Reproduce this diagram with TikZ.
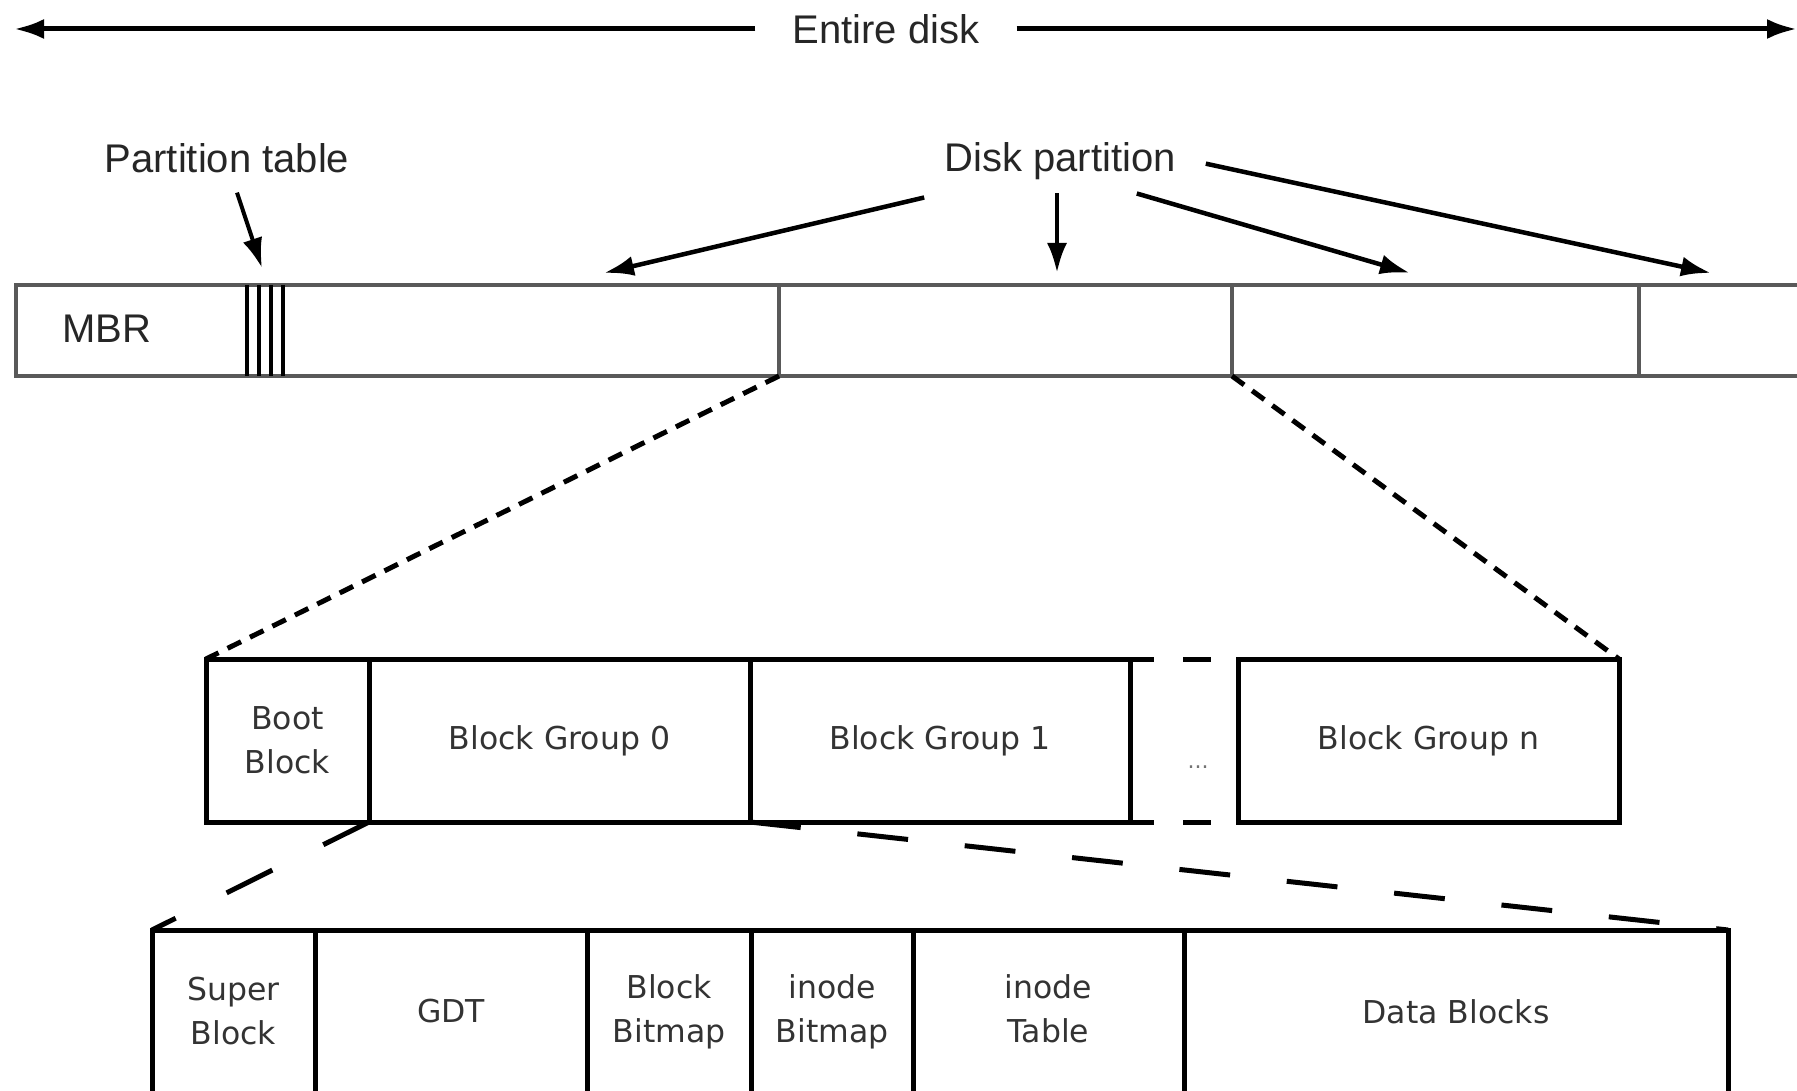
\documentclass[tikz,border=0pt]{standalone}
\usepackage{fontspec}
\setmainfont{Liberation Sans}
\newfontfamily\cellfont{DejaVu Sans}
\usepackage{tikz}
\usetikzlibrary{arrows.meta}

\begin{document}
\begin{tikzpicture}[x=1pt, y=-1pt, >={Latex[length=30pt,width=20pt]},
  toplabel/.style={inner sep=0pt, text=black!85, font=\fontsize{40}{48}\selectfont},
  diskcell/.style={draw=black!65, line width=3.5pt, minimum height=91pt, inner sep=0pt, outer sep=0pt, anchor=north west},
  groupcell/.style={draw, line width=5pt, minimum height=163pt, inner sep=0pt, outer sep=0pt, anchor=north west,
    align=center, text=black!80, font=\cellfont\fontsize{31.5}{44}\selectfont},
  zoomline/.style={line width=5pt, dash pattern=on 15pt off 10pt},
  zoomlong/.style={line width=5pt, dash pattern=on 51pt off 57pt}]

\useasboundingbox (0,0) rectangle (1797,1091);

% Entire disk
\node[toplabel, fill=white, inner xsep=37pt] (entire) at (886,29) {Entire disk};
\coordinate (diskL) at (14,29);     % left end
\coordinate (diskR) at (1797,29);   % right end
\draw[->, line width=5pt] (entire.west) -- (diskL);
\draw[->, line width=5pt] (entire.east) -- (diskR);

% Disk with its partitions
\node[diskcell, minimum width=763pt] (part0) at (16,285) {};
\node[diskcell, minimum width=453pt] (part1) at (part0.north east) {};
\node[diskcell, minimum width=407pt] (part2) at (part1.north east) {};
\node[diskcell, minimum width=200pt] (part3) at (part2.north east) {};
\node[toplabel, anchor=base] (mbr) at (107,343) {MBR};

% Partition table entries
\foreach \x in {247,259,271,283}
  \draw[line width=3.5pt] (\x,285) -- (\x,376);

% Block groups
\node[groupcell, minimum width=163pt] (boot) at (206,659) {Boot\\Block};
\node[groupcell, minimum width=381pt] (grp0) at (boot.north east) {Block Group 0};
\node[groupcell, minimum width=380pt] (grp1) at (grp0.north east) {Block Group 1};
\node[groupcell, minimum width=381pt] (grpn) at (1238,659) {Block Group n};
\draw[line width=5pt, dash pattern=on 24pt off 29pt on 28pt off 27pt] (grp1.north east) -- (grpn.north west);
\draw[line width=5pt, dash pattern=on 24pt off 29pt on 28pt off 27pt] (grp1.south east) -- (grpn.south west);
\node[anchor=base, inner sep=0pt, text=black!55, font=\cellfont\fontsize{22}{22}\selectfont] (gap) at (1198,768) {...};

% Inside one block group
\node[groupcell, minimum width=163pt] (super) at (152,930) {Super\\Block};
\node[groupcell, minimum width=272pt] (gdt) at (super.north east) {GDT};
\node[groupcell, minimum width=164pt] (bbmap) at (gdt.north east) {Block\\Bitmap};
\node[groupcell, minimum width=162pt] (ibmap) at (bbmap.north east) {inode\\Bitmap};
\node[groupcell, minimum width=271pt] (itable) at (ibmap.north east) {inode\\Table\vphantom{p}};
\node[groupcell, minimum width=544pt] (data) at (itable.north east) {Data Blocks};

% Zoom lines
\draw[zoomline] (part0.south east) -- (boot.north west);
\draw[zoomline] (part1.south east) -- (grpn.north east);
\draw[zoomlong] (boot.south east) -- (super.north west);
\draw[zoomlong] (grp0.south east) -- (data.north east);

% Labels
\node[toplabel, anchor=base] (ptab) at (227,173) {Partition table};
\node[toplabel, anchor=base] (dpart) at (1060,172) {Disk partition};

% Arrow tips
\coordinate (ptabtip) at (262,268);
\coordinate (dtip0) at (604,273);
\coordinate (dtip1) at (1057,273);
\coordinate (dtip2) at (1410,273);
\coordinate (dtip3) at (1711,273);

\draw[->, line width=4pt] ([xshift=10pt,yshift=-19pt]ptab.south) -- (ptabtip);
\draw[->, line width=4.5pt] ([xshift=-20pt,yshift=-17pt]dpart.south west) -- (dtip0);
\draw[->, line width=4.5pt] ([xshift=-3pt,yshift=-13pt]dpart.south) -- (dtip1);
\draw[->, line width=4.5pt] ([xshift=-39pt,yshift=-13pt]dpart.south east) -- (dtip2);
\draw[->, line width=4.5pt] ([xshift=30pt,yshift=-2pt]dpart.east) -- (dtip3);

\end{tikzpicture}
\end{document}
